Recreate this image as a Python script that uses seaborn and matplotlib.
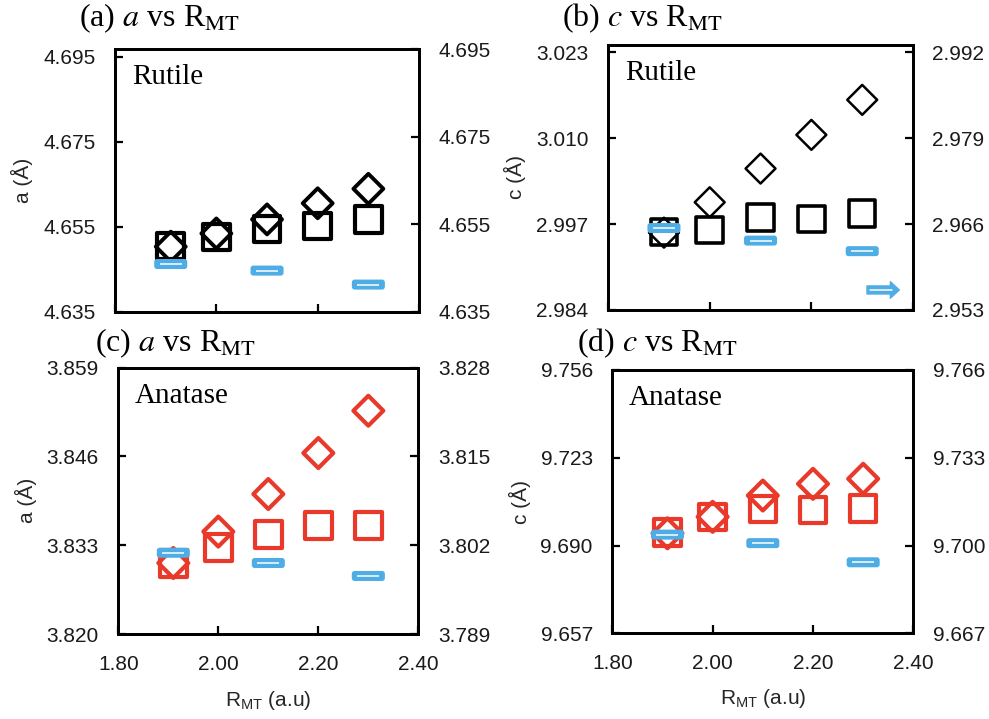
import matplotlib
matplotlib.use("Agg")
import matplotlib.pyplot as plt
from matplotlib.markers import MarkerStyle
from matplotlib.patches import FancyBboxPatch
from matplotlib.ticker import FixedLocator, FormatStrFormatter
import pandas as pd
import seaborn as sns

# Muffin-tin radius (a.u.)
r_mt = [1.91, 2.00, 2.10, 2.20, 2.30]
r_mt_ref = [1.91, 2.10, 2.30]

# Rutile lattice parameter a (Å)
rutile_a_sq = [4.6505, 4.6526, 4.6545, 4.6552, 4.6567]
rutile_a_dia = [4.6503, 4.6534, 4.6567, 4.6605, 4.6639]
rutile_a_ref = [4.6459, 4.6444, 4.6412]

# Rutile lattice parameter c (Å)
rutile_c_sq = [2.9958, 2.9961, 2.9980, 2.9978, 2.9986]
rutile_c_dia = [2.9957, 3.0003, 3.0054, 3.0105, 3.0158]
rutile_c_ref = [2.9654, 2.9635, 2.9619]

# Anatase lattice parameter a (Å)
anatase_a_sq = [3.8303, 3.8327, 3.8346, 3.8359, 3.8359]
anatase_a_dia = [3.8304, 3.8350, 3.8405, 3.8465, 3.8527]
anatase_a_ref = [3.8009, 3.7994, 3.7975]

# Anatase lattice parameter c (Å)
anatase_c_sq = [9.6949, 9.7007, 9.7037, 9.7033, 9.7040]
anatase_c_dia = [9.6946, 9.7008, 9.7088, 9.7132, 9.7151]
anatase_c_ref = [9.7041, 9.7009, 9.6937]

# Axis ticks
x_ticks = [1.80, 2.00, 2.20, 2.40]
ticks_a_rut_left = [4.635, 4.655, 4.675, 4.695]
ticks_a_rut_right = [4.635, 4.655, 4.675, 4.695]
ticks_c_rut_left = [2.984, 2.997, 3.010, 3.023]
ticks_c_rut_right = [2.953, 2.966, 2.979, 2.992]
ticks_a_ana_left = [3.820, 3.833, 3.846, 3.859]
ticks_a_ana_right = [3.789, 3.802, 3.815, 3.828]
ticks_c_ana_left = [9.657, 9.690, 9.723, 9.756]
ticks_c_ana_right = [9.667, 9.700, 9.733, 9.766]

BLACK = "#000000"
RED = "#e8392b"
BLUE = "#4fade6"

sns.set_theme(style="white")
plt.rcParams.update({
    "font.family": ["Liberation Sans", "DejaVu Sans"],
    "mathtext.fontset": "custom",
    "mathtext.rm": "Liberation Sans",
    "mathtext.it": "Liberation Sans:italic",
    "mathtext.bf": "Liberation Sans:bold",
    "axes.edgecolor": "black",
    "axes.linewidth": 2.0,
    "text.color": "#1a1a1a",
    "xtick.color": "black",
    "ytick.color": "black",
    "xtick.labelcolor": "#1a1a1a",
    "ytick.labelcolor": "#1a1a1a",
})

fig = plt.figure(figsize=(9.89, 7.19), dpi=100)

# rounded bar marker for the reference values
_bar = FancyBboxPatch((-1.65, -0.5), 3.3, 1.0,
                      boxstyle="round,pad=0,rounding_size=0.28")
bar_marker = MarkerStyle(_bar.get_path())


def style_ticks(axis_obj, side):
    axis_obj.tick_params(axis="y", direction="in", length=6, width=1.6,
                         labelsize=15, pad=14,
                         left=(side == "left"), right=(side == "right"),
                         labelleft=(side == "left"), labelright=(side == "right"))


def panel(rect, sq, dia, ref, ylim_l, ylim_r, ticks_l, ticks_r, color,
          lw_sq, lw_dia, ylabel, phase, title, title_xy, show_x, arrow=False):
    ax = fig.add_axes(rect)
    df = pd.DataFrame({"r": r_mt, "sq": sq, "dia": dia})
    sns.scatterplot(data=df, x="r", y="sq", marker="s", s=365, color=color,
                    facecolor="none", edgecolor=color, linewidth=lw_sq,
                    ax=ax, zorder=3, legend=False)
    sns.scatterplot(data=df, x="r", y="dia", marker="D", s=232, color=color,
                    facecolor="none", edgecolor=color, linewidth=lw_dia,
                    ax=ax, zorder=4, legend=False)
    ax.set_xlim(1.8, 2.4)
    ax.set_ylim(*ylim_l)
    ax.xaxis.set_major_locator(FixedLocator(x_ticks))
    ax.xaxis.set_major_formatter(FormatStrFormatter("%.2f"))
    ax.yaxis.set_major_locator(FixedLocator(ticks_l))
    ax.yaxis.set_major_formatter(FormatStrFormatter("%.3f"))
    ax.tick_params(axis="x", direction="in", length=6, width=1.6, labelsize=15,
                   pad=15, top=False, bottom=True, labelbottom=show_x)
    style_ticks(ax, "left")
    ax.set_ylabel(ylabel, fontsize=15)
    ax.yaxis.set_label_coords(-0.27, 0.5)
    if show_x:
        ax.set_xlabel(r"R$_{\mathrm{MT}}$ (a.u)", fontsize=15)
        ax.xaxis.set_label_coords(0.5, -0.205)
    else:
        ax.set_xlabel("")
    ax.text(0.055, 0.868, phase, transform=ax.transAxes, fontsize=21,
            family="Liberation Serif", color="black", va="baseline")

    ax2 = ax.twinx()
    rf = pd.DataFrame({"r": r_mt_ref, "v": ref})
    sns.scatterplot(data=rf, x="r", y="v", marker=bar_marker, s=566,
                    color=BLUE, edgecolor="none", linewidth=0, ax=ax2,
                    zorder=5, legend=False)
    sns.scatterplot(data=rf, x="r", y="v", marker="_", s=270, color="white",
                    linewidth=1.1, ax=ax2, zorder=6, legend=False)
    ax2.set_ylim(*ylim_r)
    ax2.yaxis.set_major_locator(FixedLocator(ticks_r))
    ax2.yaxis.set_major_formatter(FormatStrFormatter("%.3f"))
    style_ticks(ax2, "right")
    ax2.set_ylabel("")
    for sp in ax2.spines.values():
        sp.set_linewidth(2.0)
        sp.set_color("black")

    if arrow:
        ax2.annotate("", xy=(0.955, 0.0755), xytext=(0.849, 0.0755),
                     xycoords="axes fraction", textcoords="axes fraction",
                     arrowprops=dict(arrowstyle="simple,head_length=0.38,"
                                     "head_width=0.7,tail_width=0.34",
                                     color=BLUE, mutation_scale=17,
                                     shrinkA=0, shrinkB=0))
        ax2.plot([0.859, 0.931], [0.0755, 0.0755], transform=ax2.transAxes,
                 color="white", lw=1.1, zorder=7)

    fig.text(title_xy[0], title_xy[1], title, fontsize=23,
             family="Liberation Serif", math_fontfamily="stix",
             color="black", va="baseline", ha="left")
    return ax, ax2


panel([0.1163, 0.5665, 0.3074, 0.3649], rutile_a_sq, rutile_a_dia, rutile_a_ref,
      (4.635, 4.6967), (4.635, 4.695), ticks_a_rut_left, ticks_a_rut_right,
      BLACK, 3.0, 2.8, "a (Å)", "Rutile",
      r"(a) $\mathit{a}$ vs R$_{\mathrm{MT}}$", (0.080, 0.963), False)

panel([0.6148, 0.5689, 0.3084, 0.3685], rutile_c_sq, rutile_c_dia, rutile_c_ref,
      (2.984, 3.0241), (2.953, 2.9931), ticks_c_rut_left, ticks_c_rut_right,
      BLACK, 2.6, 1.8, "c (Å)", "Rutile",
      r"(b) $\mathit{c}$ vs R$_{\mathrm{MT}}$", (0.568, 0.963), False, arrow=True)

panel([0.1196, 0.1182, 0.3034, 0.3704], anatase_a_sq, anatase_a_dia, anatase_a_ref,
      (3.820, 3.859), (3.789, 3.828), ticks_a_ana_left, ticks_a_ana_right,
      RED, 3.0, 3.0, "a (Å)", "Anatase",
      r"(c) $\mathit{a}$ vs R$_{\mathrm{MT}}$", (0.096, 0.511), True)

panel([0.6191, 0.1192, 0.3044, 0.3662], anatase_c_sq, anatase_c_dia, anatase_c_ref,
      (9.657, 9.756), (9.667, 9.766), ticks_c_ana_left, ticks_c_ana_right,
      RED, 3.0, 3.0, "c (Å)", "Anatase",
      r"(d) $\mathit{c}$ vs R$_{\mathrm{MT}}$", (0.583, 0.511), True)

fig.savefig("out.png", dpi=100)
